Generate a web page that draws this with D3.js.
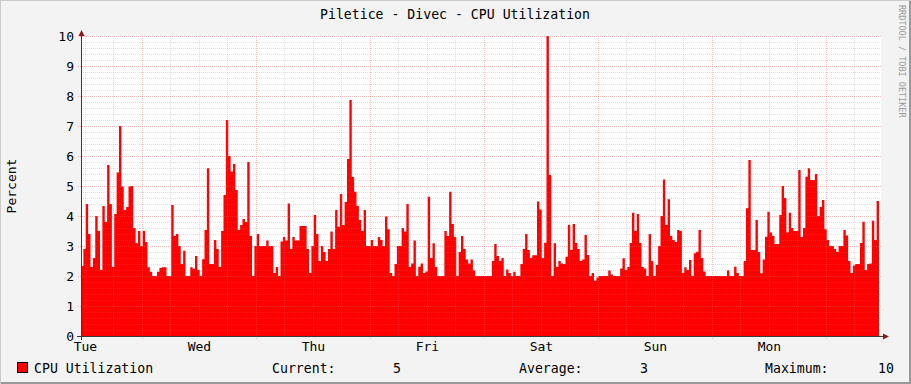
<!DOCTYPE html>
<html><head><meta charset="utf-8">
<script src="https://cdn.jsdelivr.net/npm/d3@7"></script>
<style>
html,body{margin:0;padding:0;background:#f3f3f3;}
svg{display:block;}
text{font-family:"DejaVu Sans Mono","Liberation Mono",monospace;}
</style></head><body>
<svg id="chart" width="911" height="384"></svg>
<script>
// ---- data ----
const chartTitle = "Piletice - Divec - CPU Utilization";
const yAxisLabel = "Percent";
const seriesName = "CPU Utilization";
const watermark = "RRDTOOL / TOBI OETIKER";
const yTickValues = [0,1,2,3,4,5,6,7,8,9,10];
const dayLabels = ["Tue","Wed","Thu","Fri","Sat","Sun","Mon"];
const startTime = Date.UTC(2011,0,4,11,10);   // Tuesday 11:10
const stepMinutes = 30;
const cpu = [
 2.33,2.9,4.4,3.4,2.3,2.6,4.0,3.5,2.2,4.33,3.8,5.7,
 4.4,2.3,4.07,5.45,7.0,4.98,4.2,4.3,4.98,5.0,3.6,3.09,
 3.5,3.0,3.5,3.13,2.29,2.14,2.0,2.0,2.14,2.27,2.29,2.29,
 2.0,2.0,4.37,3.33,3.4,3.0,2.4,2.84,2.0,2.0,2.29,2.24,
 2.67,2.2,2.0,2.56,3.53,5.59,2.4,2.4,3.2,2.9,2.3,3.5,
 4.7,7.2,6.0,5.48,5.73,4.87,3.53,3.7,3.9,3.8,5.8,3.33,
 2.0,3.0,3.4,3.0,3.0,3.0,3.18,3.0,3.0,2.1,2.3,2.0,
 3.15,3.3,3.18,4.42,2.9,3.3,3.18,3.18,3.67,3.67,3.67,2.9,
 2.1,3.0,4.03,3.4,2.5,3.0,2.8,2.5,2.9,3.48,2.9,4.2,
 3.64,4.73,3.7,4.47,5.9,7.87,5.3,4.81,4.33,3.87,3.5,4.2,
 3.0,3.0,3.2,3.0,3.0,3.3,3.2,3.0,3.98,3.56,2.1,2.0,
 2.4,3.0,3.0,3.6,3.48,4.4,2.3,2.42,3.18,2.0,2.31,2.42,
 2.1,2.15,4.64,2.6,3.09,2.3,2.0,2.0,2.0,3.5,3.33,4.81,
 3.73,3.3,2.0,2.8,3.33,2.9,2.55,2.42,2.55,2.18,2.0,2.0,
 2.0,2.0,2.0,2.0,2.0,2.5,3.07,2.67,2.5,2.6,2.0,2.22,
 2.1,2.0,2.14,2.0,2.0,2.4,2.9,3.4,2.87,2.6,2.69,2.69,
 4.48,4.22,2.6,3.11,10.0,5.37,2.0,3.09,2.3,2.5,2.42,2.4,
 2.64,3.7,2.87,3.73,3.1,2.9,2.5,2.55,3.37,2.7,2.0,2.1,
 1.84,1.95,2.0,2.0,2.0,2.0,2.18,2.05,2.0,2.0,2.0,2.25,
 2.59,2.2,2.3,3.1,4.11,3.5,4.07,3.1,2.3,2.25,2.0,3.4,
 2.5,2.0,2.37,3.0,4.0,5.22,3.7,4.56,3.33,3.2,3.13,3.53,
 3.5,2.1,2.29,2.2,2.53,2.0,2.76,2.81,3.53,2.6,2.15,2.0,
 2.0,2.0,2.0,2.0,2.0,2.0,2.0,2.0,2.18,2.0,2.0,2.31,
 2.1,2.0,2.0,2.5,4.26,5.87,2.87,2.87,3.87,2.8,2.09,2.55,
 3.31,4.14,3.45,3.33,3.07,3.07,4.03,5.0,4.6,3.45,4.11,3.6,
 3.5,3.5,5.53,3.3,3.6,5.31,5.59,5.2,5.2,5.4,4.0,4.3,
 4.53,3.56,3.2,3.0,3.0,2.9,2.8,3.0,3.0,3.53,3.35,2.5,
 2.1,2.35,2.4,2.4,3.1,3.81,2.2,2.4,2.42,3.84,3.2,4.5
];
const statLabels = ["Current:","Average:","Maximum:"];
const statValues = ["5","3","10"];

// ---- layout ----
const W = 911, H = 384;
const L = 81, R = 879, CANVAS_R = 881, T = 36, B = 336;
const stepMs = stepMinutes*60000;
const endTime = startTime + 7*24*3600000;

const svg = d3.select("#chart");
const x = d3.scaleUtc().domain([startTime, endTime]).range([L, R]);
const y = d3.scaleLinear().domain([0,10]).range([B, T]);

// background & border
svg.append("rect").attr("x",0).attr("y",0).attr("width",W).attr("height",H).attr("fill","#f3f3f3");
svg.append("path").attr("d",`M0,${H} V0 H${W}`).attr("stroke","#cbcbcb").attr("stroke-width",2).attr("fill","none");
svg.append("path").attr("d",`M1,${H-1} H${W-1} V1`).attr("stroke","#999").attr("stroke-width",2).attr("fill","none");

// canvas
svg.append("rect").attr("x",L).attr("y",T).attr("width",CANVAS_R-L).attr("height",B-T).attr("fill","#fff");

// area
const pts = cpu.map((v,i)=>({t:startTime+i*stepMs, v}));
pts.push({t:startTime+cpu.length*stepMs, v:cpu[cpu.length-1]});
const area = d3.area().curve(d3.curveStepAfter)
  .x(d=>x(d.t)).y0(y(0)).y1(d=>y(d.v));
svg.append("path").datum(pts).attr("d",area).attr("fill","#ff0000");

// grid (drawn on top, semi-transparent like rrdtool)
const g = svg.append("g").attr("shape-rendering","crispEdges");
const minorY = d3.range(1,50).map(k=>k/5).filter(v=>Math.abs(v-Math.round(v))>1e-6);
g.selectAll(".mgy").data(minorY).join("line")
  .attr("x1",L).attr("x2",CANVAS_R).attr("y1",d=>Math.round(y(d))+0.5).attr("y2",d=>Math.round(y(d))+0.5)
  .attr("stroke","rgba(140,140,140,0.28)").attr("stroke-dasharray","1,1");
const majorY = yTickValues.filter(v=>v>0);
g.selectAll(".Mgy").data(majorY).join("line")
  .attr("x1",L-3).attr("x2",CANVAS_R).attr("y1",d=>Math.round(y(d))+0.5).attr("y2",d=>Math.round(y(d))+0.5)
  .attr("stroke","rgba(240,90,90,0.42)").attr("stroke-dasharray","1,1");
const minorX = d3.utcHour.every(6).range(startTime, endTime).filter(d=>d.getUTCHours()!==0);
g.selectAll(".mgx").data(minorX).join("line")
  .attr("y1",T).attr("y2",B).attr("x1",d=>Math.round(x(d))+0.5).attr("x2",d=>Math.round(x(d))+0.5)
  .attr("stroke","rgba(140,140,140,0.28)").attr("stroke-dasharray","1,1");
const majorX = d3.utcDay.range(startTime, endTime);
g.selectAll(".Mgx").data(majorX).join("line")
  .attr("y1",T).attr("y2",B+3).attr("x1",d=>Math.round(x(d))+0.5).attr("x2",d=>Math.round(x(d))+0.5)
  .attr("stroke","rgba(240,90,90,0.42)").attr("stroke-dasharray","1,1");

// axes
g.append("line").attr("x1",L-4).attr("x2",CANVAS_R+3).attr("y1",B+0.5).attr("y2",B+0.5).attr("stroke","#3a3a3a");
g.append("line").attr("x1",L+0.5).attr("x2",L+0.5).attr("y1",B+4).attr("y2",T-3).attr("stroke","#3a3a3a");
svg.append("path").attr("d",`M${L-2.5},${T} L${L+0.5},${T-6} L${L+3.5},${T} Z`).attr("fill","#8b1a1a");
svg.append("path").attr("d",`M${CANVAS_R+2},${B-2.5} L${CANVAS_R+8},${B+0.5} L${CANVAS_R+2},${B+3.5} Z`).attr("fill","#8b1a1a");

// y tick labels
svg.selectAll(".ytl").data(yTickValues).join("text")
  .attr("x",74).attr("y",d=>y(d)+4.5).attr("text-anchor","end")
  .attr("font-size",13).attr("fill","#000").text(d=>d);

// day labels at noon
const noonTimes = dayLabels.map((lab,i)=>({lab, t:Date.UTC(2011,0,4+i,12)}));
svg.selectAll(".xtl").data(noonTimes).join("text")
  .attr("x",d=>x(d.t)+0.5).attr("y",351).attr("text-anchor","middle")
  .attr("font-size",13).attr("fill","#000").text(d=>d.lab);

// title
svg.append("text").attr("x",455).attr("y",19).attr("text-anchor","middle")
  .attr("font-size",13.2).attr("fill","#000").text(chartTitle);

// y axis label
svg.append("text").attr("transform","translate(16,186) rotate(-90)").attr("text-anchor","middle")
  .attr("font-size",13).attr("fill","#000").text(yAxisLabel);

// watermark
svg.append("text").attr("transform","translate(899,5) rotate(90)").attr("text-anchor","start")
  .attr("font-size",8.5).attr("fill","#999").text(watermark);

// legend
svg.append("rect").attr("x",17.5).attr("y",362.5).attr("width",10).attr("height",10)
  .attr("fill","#ff0000").attr("stroke","#000");
svg.append("text").attr("x",34).attr("y",373).attr("font-size",13.2).attr("fill","#000").text(seriesName);
const labelX = [272, 519, 765];
const valueRight = [401, 648, 894];
statLabels.forEach((s,i)=>{
  svg.append("text").attr("x",labelX[i]).attr("y",373).attr("font-size",13.2).attr("fill","#000").text(s);
  svg.append("text").attr("x",valueRight[i]).attr("y",373).attr("text-anchor","end").attr("font-size",13.2).attr("fill","#000").text(statValues[i]);
});
</script>
</body></html>
